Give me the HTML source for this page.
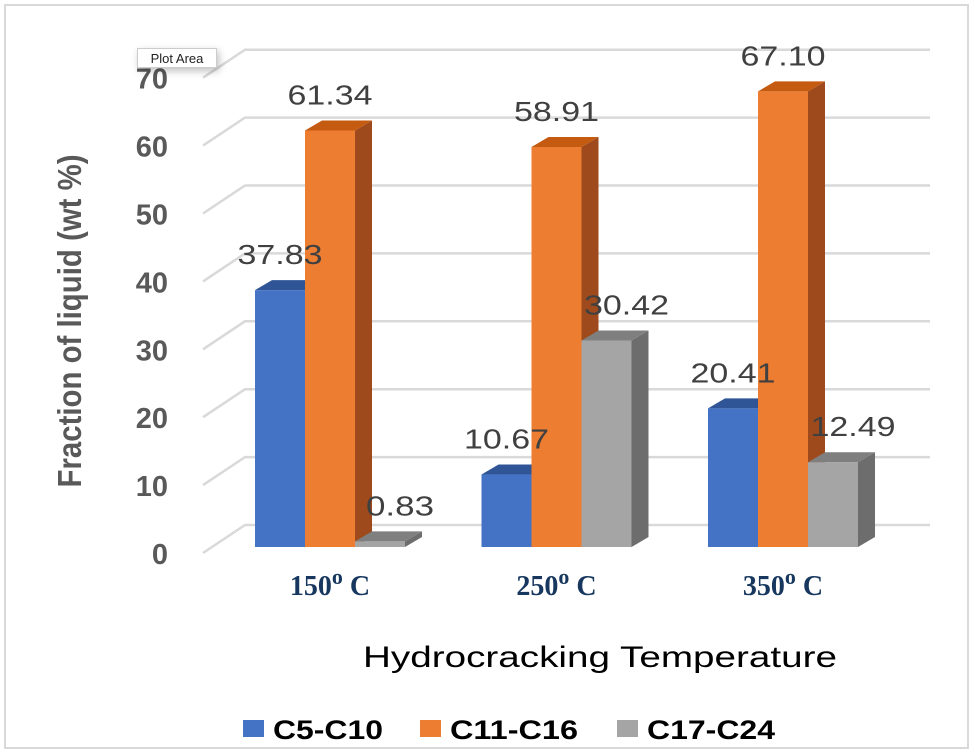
<!DOCTYPE html>
<html><head><meta charset="utf-8"><style>
html,body{margin:0;padding:0;background:#fff}
body{width:975px;height:754px;position:relative;overflow:hidden;font-family:"Liberation Sans",sans-serif}
#frame{position:absolute;left:4px;top:4px;width:965px;height:745px;border:2px solid #d9d9d9;box-sizing:border-box}
#tip{position:absolute;left:137px;top:48px;width:80px;height:20px;border:1px solid #ccc;background:#fff;font-size:13px;line-height:20px;text-align:center;box-shadow:2px 3px 8px rgba(0,0,0,.25);box-sizing:border-box;color:#222}
</style></head><body>
<div id="frame"></div>
<svg id="chart" width="975" height="754" style="position:absolute;left:0;top:0"></svg>
<div id="tip">Plot Area</div>
<script>
const categories = ["150", "250", "350"];
const seriesNames = ["C5-C10", "C11-C16", "C17-C24"];
const c5c10 = [37.83, 10.67, 20.41];
const c11c16 = [61.34, 58.91, 67.10];
const c17c24 = [0.83, 30.42, 12.49];
const labelsC5 = ["37.83", "10.67", "20.41"];
const labelsC11 = ["61.34", "58.91", "67.10"];
const labelsC17 = ["0.83", "30.42", "12.49"];
const yTicks = [0, 10, 20, 30, 40, 50, 60, 70];

const svg = document.getElementById('chart');
const NS = 'http://www.w3.org/2000/svg';
const base = 547, scale = 6.79;
const y = v => base - v * scale;
const groupX = i => 255 + i * 226.5;
const barW = 50, dx = 17, dy = 10;
const front = ["#4472c4", "#ed7d31", "#a5a5a5"];
const topC = ["#2f5597", "#c55a11", "#7f7f7f"];
const sideC = ["#2f528f", "#9e4a1c", "#6d6d6d"];
const labOff = [25, 25, 45];
function mk(tag, attrs, parent) { const e = document.createElementNS(NS, tag); for (const k in attrs) e.setAttribute(k, attrs[k]); (parent || svg).appendChild(e); return e; }

yTicks.forEach(t => {
  const gy = y(t) - 19;
  const g = mk('polyline', { points: `203,${gy + 25} 245,${gy - 3} 930,${gy - 3}`, fill: 'none', stroke: '#d9d9d9', 'stroke-width': 2.5 });
  
  
  const tx = mk('text', { x: 168, y: gy + 36, 'text-anchor': 'end', 'font-size': 29, 'font-weight': 'bold', fill: '#595959' });
  tx.textContent = t;
  
  
});

const all = [c5c10, c11c16, c17c24];
const labs = [labelsC5, labelsC11, labelsC17];
categories.forEach((c, i) => {
  for (let s = 0; s < 3; s++) {
    const x0 = groupX(i) + s * barW, v = all[s][i], top = y(v);
    const g = mk('g', {});
    
    
    mk('polygon', { points: `${x0 + barW},${top} ${x0 + barW + dx},${top - dy} ${x0 + barW + dx},${base - dy} ${x0 + barW},${base}`, fill: sideC[s] }, g);
    mk('polygon', { points: `${x0},${top} ${x0 + dx},${top - dy} ${x0 + barW + dx},${top - dy} ${x0 + barW},${top}`, fill: topC[s] }, g);
    mk('rect', { x: x0, y: top, width: barW, height: base - top, fill: front[s] }, g);
  }
  const xl = mk('text', { x: groupX(i) + 75, y: 595, 'text-anchor': 'middle', 'font-size': 28, 'font-weight': 'bold', fill: '#17375e', 'font-family': 'Liberation Serif, serif' });
  xl.innerHTML = c + '<tspan dy="-11" font-size="22">o</tspan><tspan dy="11"> C</tspan>';
  
  
});
categories.forEach((c, i) => {
  for (let s = 0; s < 3; s++) {
    const x0 = groupX(i) + s * barW, top = y(all[s][i]);
    const lab = labs[s][i];
    const t = mk('text', { x: x0 + labOff[s], y: top - 26, 'text-anchor': 'middle', 'font-size': 28, fill: '#404040', textLength: lab.length * 17, lengthAdjust: 'spacingAndGlyphs' });
    t.textContent = lab;
    
    
  }
});

const xt = mk('text', { x: 600, y: 667, 'text-anchor': 'middle', 'font-size': 30, fill: '#000', textLength: 474, lengthAdjust: 'spacingAndGlyphs' });
xt.textContent = 'Hydrocracking Temperature';



const yt = mk('text', { x: 0, y: 0, transform: 'translate(81,321) rotate(-90)', 'text-anchor': 'middle', 'font-size': 33, 'font-weight': 'bold', fill: '#595959', textLength: 333, lengthAdjust: 'spacingAndGlyphs' });
yt.textContent = 'Fraction of liquid  (wt %)';



const legX = [243, 420, 617];
const legW = [110, 128, 128];
seriesNames.forEach((n, s) => {
  const g = mk('g', {});
  
  
  mk('rect', { x: legX[s], y: 720, width: 21, height: 17, fill: front[s] }, g);
  const t = mk('text', { x: legX[s] + 30, y: 739, 'font-size': 27, 'font-weight': 'bold', fill: '#000', textLength: legW[s], lengthAdjust: 'spacingAndGlyphs' }, g);
  t.textContent = n;
});
</script>
</body></html>
